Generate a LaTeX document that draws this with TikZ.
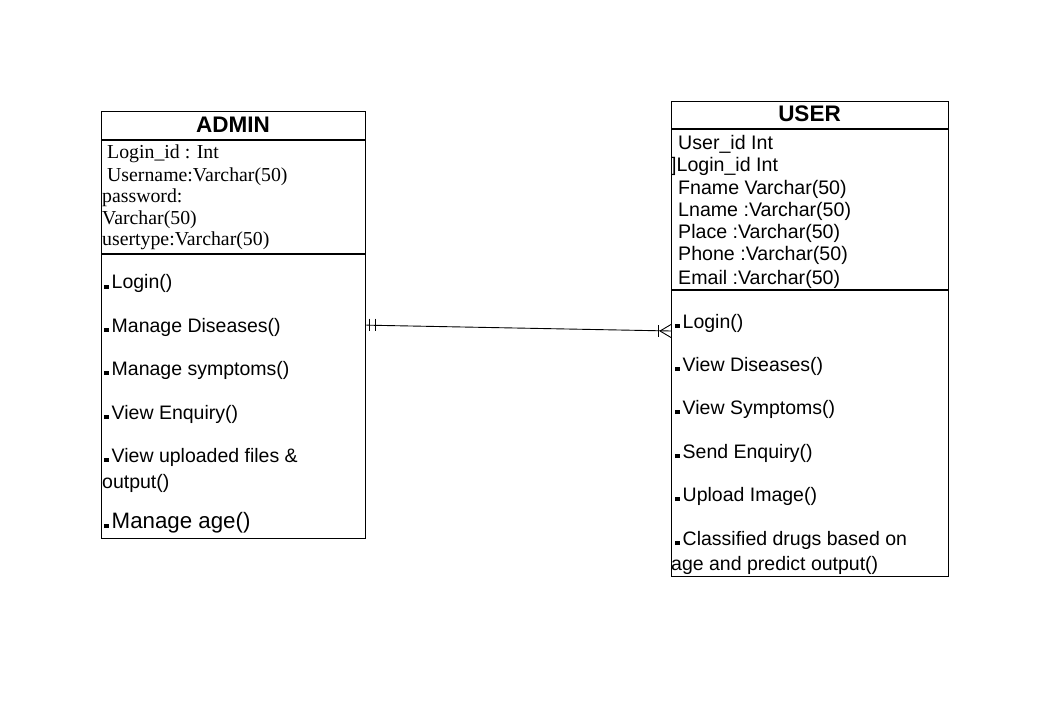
\documentclass[tikz,border=0pt]{standalone}
\usepackage{fontspec}
\setmainfont{Liberation Serif}
\newfontfamily\arial{Liberation Sans}
\newcommand\bul{\rule{4.5pt}{4.5pt}\hspace{3pt}}
\begin{document}
\begin{tikzpicture}[x=1pt,y=-1pt,
  box/.style={draw, line width=1.3pt, anchor=north west, inner sep=0pt},
  divider/.style={line width=1.1pt},
  ttl/.style={anchor=base, inner sep=0pt, font=\arial\bfseries\fontsize{22.5}{24}\selectfont},
  tattr/.style={anchor=base west, inner sep=0pt, font=\fontsize{19.8}{22}\selectfont},
  sattr/.style={anchor=base west, inner sep=0pt, font=\arial\fontsize{19.6}{22}\selectfont},
  meth/.style={anchor=base west, inner sep=0pt, font=\arial\fontsize{19.5}{22}\selectfont},
  conn/.style={line width=0.9pt}]
\useasboundingbox (0,0) rectangle (1049,719);
% ADMIN
\node[box, minimum width=264pt, minimum height=427pt] (admin) at (101,111) {};
\draw[divider] (101,140) -- (365,140);
\draw[divider] (101,254) -- (365,254);
\node[ttl] (atitle) at (233,133) {ADMIN};
\node[tattr] (a1) at (107,159) {Login\_id : Int};
\node[tattr] (a2) at (107,181.5) {Username:Varchar(50)};
\node[tattr] (a3) at (102,203) {password:};
\node[tattr] (a4) at (102,224.5) {Varchar(50)};
\node[tattr] (a5) at (102,246) {usertype:Varchar(50)};
\node[meth] (m1) at (104,289) {\bul Login()};
\node[meth] (m2) at (104,332) {\bul Manage Diseases()};
\node[meth] (m3) at (104,375) {\bul Manage symptoms()};
\node[meth] (m4) at (104,419) {\bul View Enquiry()};
\node[meth] (m5) at (104,462) {\bul View uploaded files \&};
\node[meth] (m5b) at (102,488) {output()};
\node[meth, font=\arial\fontsize{22.3}{24}\selectfont] (m6) at (104,528) {\bul Manage age()};
% USER
\node[box, minimum width=277pt, minimum height=475pt] (user) at (671,101) {};
\draw[divider] (671,129) -- (948,129);
\draw[divider] (671,290) -- (948,290);
\node[ttl] (utitle) at (809.5,122) {USER};
\node[sattr] (u1) at (678,150) {User\_id Int};
\node[sattr] (u2) at (671,172) {]Login\_id Int};
\node[sattr] (u3) at (678,194.5) {Fname Varchar(50)};
\node[sattr] (u4) at (678,217) {Lname :Varchar(50)};
\node[sattr] (u5) at (678,239) {Place :Varchar(50)};
\node[sattr] (u6) at (678,261) {Phone :Varchar(50)};
\node[sattr] (u7) at (678,284) {Email :Varchar(50)};
\node[meth] (n1) at (675,328) {\bul Login()};
\node[meth] (n2) at (675,371) {\bul View Diseases()};
\node[meth] (n3) at (675,414) {\bul View Symptoms()};
\node[meth] (n4) at (675,458) {\bul Send Enquiry()};
\node[meth] (n5) at (675,501) {\bul Upload Image()};
\node[meth] (n6) at (675,545) {\bul Classified drugs based on};
\node[meth] (n6b) at (671,570) {age and predict output()};
% relationship
\coordinate (ue) at (671,331);
\draw[conn] (admin.east) -- (ue);
% one-and-only-one
\draw[conn] (369.5,318.5) -- (369.5,330.5);
\draw[conn] (375.5,318.5) -- (375.5,330.5);
% one-or-many
\draw[conn] (658,325) -- (658,337);
\draw[conn] (660,331) -- (671,324.5);
\draw[conn] (660,331) -- (671,337.5);
\end{tikzpicture}
\end{document}
